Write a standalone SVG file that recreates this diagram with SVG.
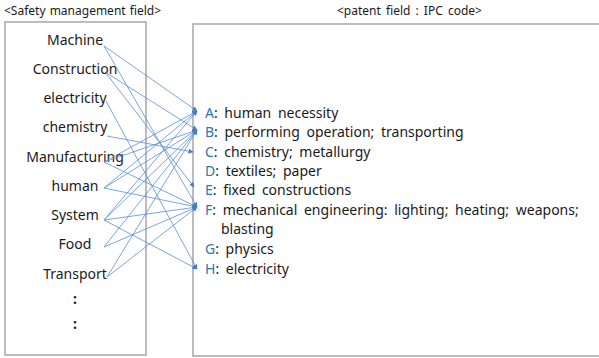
<svg xmlns="http://www.w3.org/2000/svg" width="599" height="358" viewBox="0 0 599 358">
<defs>
<marker id="ah" viewBox="0 0 10 10" refX="9" refY="5" markerWidth="5" markerHeight="5" markerUnits="userSpaceOnUse" orient="auto">
<path d="M0,0 L10,5 L0,10 z" fill="#4A7CC0"/>
</marker>
<style>
.t{font-family:"Noto Sans","Liberation Sans",sans-serif;font-size:14px;fill:#1a1a1a}
.r{word-spacing:3px}
.h{font-family:"Noto Sans","Liberation Sans",sans-serif;font-size:12px;fill:#1a1a1a}
.c{fill:#2E75B6}
.box{fill:#fff;stroke:#A6A6A6;stroke-width:1.5}
.ln{stroke:#5B8ED6;stroke-width:0.8;fill:none;marker-end:url(#ah)}
</style>
</defs>
<rect width="599" height="358" fill="#fff"/>
<text class="h" x="4" y="15" style="word-spacing:1px">&lt;Safety management field&gt;</text>
<text class="h" x="337" y="15" style="word-spacing:2px">&lt;patent field : IPC code&gt;</text>
<g id="left-box">
<rect class="box" x="5" y="22" width="141" height="333"/>
<g text-anchor="middle">
<text class="t" x="75" y="45">Machine</text>
<text class="t" x="75" y="74">Construction</text>
<text class="t" x="75" y="103">electricity</text>
<text class="t" x="75" y="132">chemistry</text>
<text class="t" x="75" y="162">Manufacturing</text>
<text class="t" x="75" y="191">human</text>
<text class="t" x="75" y="220">System</text>
<text class="t" x="75" y="249">Food</text>
<text class="t" x="75" y="279">Transport</text>
<text class="t" x="75" y="304" font-weight="bold">:</text>
<text class="t" x="75" y="329" font-weight="bold">:</text>
</g>
</g>
<g id="right-box">
<rect class="box" x="193" y="24" width="420" height="332"/>
<text class="t r" x="205" y="118"><tspan class="c">A</tspan>: human necessity</text>
<text class="t r" x="205" y="137"><tspan class="c">B</tspan>: performing operation; transporting</text>
<text class="t r" x="205" y="157"><tspan class="c">C</tspan>: chemistry; metallurgy</text>
<text class="t r" x="205" y="176"><tspan class="c">D</tspan>: textiles; paper</text>
<text class="t r" x="205" y="195"><tspan class="c">E</tspan>: fixed constructions</text>
<text class="t r" x="205" y="215"><tspan class="c">F</tspan>: mechanical engineering: lighting; heating; weapons;</text>
<text class="t r" x="221" y="234">blasting</text>
<text class="t r" x="205" y="254"><tspan class="c">G</tspan>: physics</text>
<text class="t r" x="205" y="274"><tspan class="c">H</tspan>: electricity</text>
</g>
<g id="connectors">
<line class="ln" x1="104" y1="46" x2="197" y2="111"/>
<line class="ln" x1="104" y1="46" x2="197" y2="207"/>
<line class="ln" x1="105" y1="72" x2="197" y2="130"/>
<line class="ln" x1="105" y1="72" x2="194" y2="187"/>
<line class="ln" x1="106" y1="101" x2="197" y2="269"/>
<line class="ln" x1="107" y1="136" x2="193" y2="152"/>
<line class="ln" x1="104" y1="162" x2="197" y2="111"/>
<line class="ln" x1="104" y1="162" x2="197" y2="130"/>
<line class="ln" x1="104" y1="162" x2="197" y2="207"/>
<line class="ln" x1="104" y1="188" x2="197" y2="111"/>
<line class="ln" x1="104" y1="188" x2="197" y2="130"/>
<line class="ln" x1="104" y1="188" x2="197" y2="207"/>
<line class="ln" x1="104" y1="220" x2="197" y2="111"/>
<line class="ln" x1="104" y1="220" x2="197" y2="130"/>
<line class="ln" x1="104" y1="220" x2="197" y2="207"/>
<line class="ln" x1="104" y1="220" x2="197" y2="269"/>
<line class="ln" x1="104" y1="247" x2="197" y2="130"/>
<line class="ln" x1="104" y1="247" x2="197" y2="207"/>
<line class="ln" x1="107" y1="277" x2="197" y2="130"/>
<line class="ln" x1="107" y1="277" x2="197" y2="207"/>
</g>
</svg>
